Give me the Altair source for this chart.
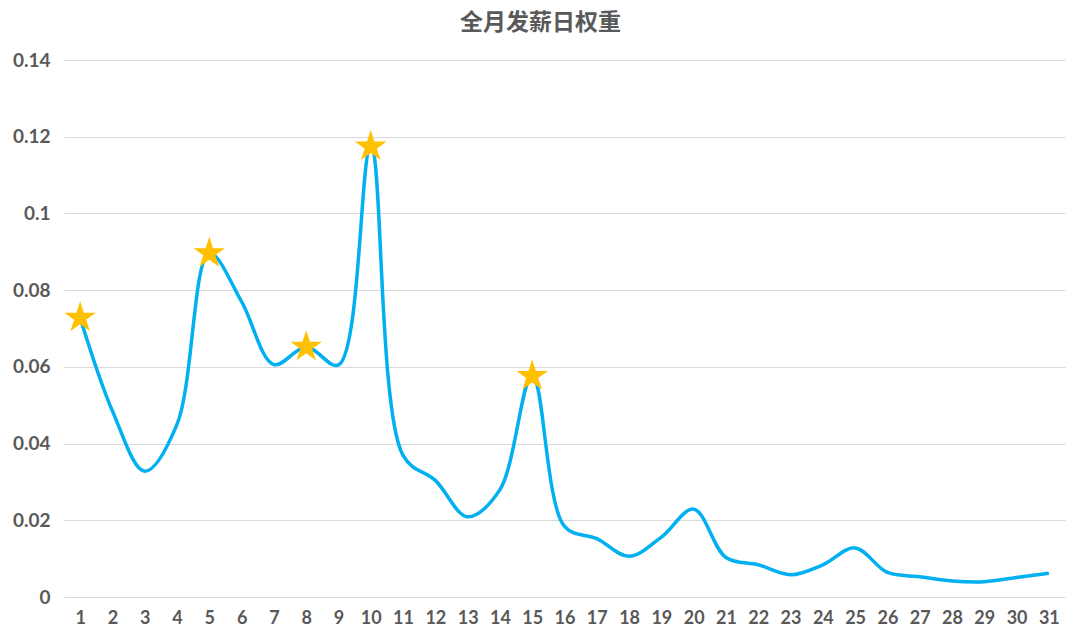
import altair as alt
import pandas as pd

days = list(range(1, 32))
weights = [0.0728, 0.0485, 0.0328, 0.0450, 0.0896, 0.0770, 0.0606, 0.0652, 0.0605, 0.1174,
           0.0369, 0.0304, 0.0209, 0.0280, 0.0576, 0.0184, 0.0152, 0.0106, 0.0156, 0.0229,
           0.0103, 0.0084, 0.0058, 0.0084, 0.0128, 0.0064, 0.0053, 0.0042, 0.0040, 0.0051,
           0.0062]
star_days = [1, 5, 8, 10, 15]
y_ticks = [0, 0.02, 0.04, 0.06, 0.08, 0.10, 0.12, 0.14]

df = pd.DataFrame({"day": days, "w": weights})
df["star"] = df["day"].isin(star_days)

STAR = ("M0,-1L0.2245,-0.309L0.9511,-0.309L0.3633,0.118L0.5878,0.809L0,0.382"
        "L-0.5878,0.809L-0.3633,0.118L-0.9511,-0.309L-0.2245,-0.309Z")

x = alt.X("day:O", title=None, sort=days,
          axis=alt.Axis(labelAngle=0, ticks=False, domain=False, grid=False,
                        labelPadding=12, labelFontSize=18, labelFontWeight="bold",
                        labelColor="#595959", labelFont="Lato"))
y = alt.Y("w:Q", title=None,
          scale=alt.Scale(domain=[0, 0.14], nice=False, zero=True),
          axis=alt.Axis(values=y_ticks, format=".2~f", ticks=False, domain=False,
                        grid=True, gridColor="#D9D9D9", gridWidth=1.2,
                        labelPadding=14, labelFontSize=19, labelFontWeight="bold",
                        labelColor="#595959", labelFont="Lato"))

line = alt.Chart(df).mark_line(interpolate="catmull-rom", color="#00B0F0",
                               strokeWidth=3.5).encode(x=x, y=y)
stars = alt.Chart(df).transform_filter("datum.star").mark_point(
    shape=STAR, filled=True, color="#FFC000", size=1100, opacity=1, strokeWidth=0
).encode(x=x, y=y)

chart = (line + stars).properties(
    width=1001, height=537,
    background="white",
    title=alt.TitleParams("全月发薪日权重", font="Noto Sans CJK SC", fontSize=23,
                          fontWeight="bold", color="#595959", anchor="middle",
                          offset=16, dx=-24),
    autosize=alt.AutoSizeParams(type="none"),
    padding={"left": 56, "top": 52, "right": 7, "bottom": 39},
).configure_view(strokeWidth=0, stroke="transparent")

chart.save("out.html", embed_options={"renderer": "svg", "actions": False})
